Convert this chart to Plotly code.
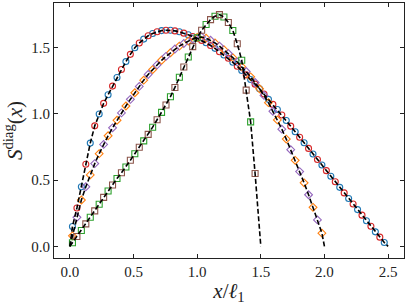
import plotly.graph_objects as go

# x grid of the numerical points (x / l1)
x_grid = [0.020, 0.055, 0.090, 0.125, 0.160, 0.195, 0.230, 0.265, 0.300, 0.335,
          0.370, 0.405, 0.440, 0.475, 0.510, 0.545, 0.580, 0.615, 0.650, 0.685,
          0.720, 0.755, 0.790, 0.825, 0.860, 0.895, 0.930, 0.965, 1.000, 1.035,
          1.070, 1.105, 1.140, 1.175, 1.210, 1.245, 1.280, 1.315, 1.350, 1.385,
          1.420, 1.455, 1.490, 1.525, 1.560, 1.595, 1.630, 1.665, 1.700, 1.735,
          1.770, 1.805, 1.840, 1.875, 1.910, 1.945, 1.980, 2.015, 2.050, 2.085,
          2.120, 2.155, 2.190, 2.225, 2.260, 2.295, 2.330, 2.365, 2.400, 2.435,
          2.470]

# curve ending at x = 2.5
y1 = [0.15, 0.29, 0.45, 0.62, 0.78, 0.91, 1.00, 1.08, 1.145, 1.21,
      1.275, 1.335, 1.395, 1.45, 1.50, 1.535, 1.565, 1.59, 1.607, 1.62,
      1.629, 1.632, 1.632, 1.627, 1.62, 1.61, 1.598, 1.585, 1.571, 1.555,
      1.537, 1.517, 1.495, 1.47, 1.445, 1.42, 1.39, 1.36, 1.328, 1.295,
      1.26, 1.225, 1.19, 1.15, 1.11, 1.072, 1.034, 0.992, 0.95, 0.908,
      0.866, 0.824, 0.782, 0.74, 0.698, 0.656, 0.614, 0.572, 0.53, 0.488,
      0.446, 0.404, 0.362, 0.32, 0.278, 0.236, 0.194, 0.152, 0.11, 0.07,
      0.03]
L1 = 2.5

# curve ending at x = 2.0
y2 = [0.08, 0.22, 0.35, 0.45, 0.54, 0.625, 0.70, 0.77, 0.835, 0.895,
      0.952, 1.008, 1.06, 1.11, 1.16, 1.208, 1.255, 1.298, 1.335, 1.37,
      1.405, 1.435, 1.462, 1.49, 1.512, 1.532, 1.55, 1.566, 1.577, 1.581,
      1.572, 1.556, 1.536, 1.512, 1.485, 1.456, 1.425, 1.392, 1.357, 1.32,
      1.28, 1.237, 1.19, 1.14, 1.085, 1.02, 0.955, 0.885, 0.81, 0.73,
      0.65, 0.565, 0.48, 0.39, 0.295, 0.20, 0.10]
L2 = 2.0

# curve ending at x = 1.5
y3 = [0.028, 0.075, 0.12, 0.17, 0.22, 0.268, 0.318, 0.37, 0.418, 0.464,
      0.513, 0.556, 0.60, 0.65, 0.70, 0.748, 0.797, 0.846, 0.90, 0.956,
      1.012, 1.068, 1.13, 1.20, 1.277, 1.354, 1.43, 1.508, 1.575, 1.632,
      1.675, 1.712, 1.738, 1.75, 1.732, 1.69, 1.63, 1.53, 1.405, 1.18,
      0.94, 0.55]
L3 = 1.5

x_ticks = [0.0, 0.5, 1.0, 1.5, 2.0, 2.5]
y_ticks = [0.0, 0.5, 1.0, 1.5]

SERIF = "Liberation Serif, DejaVu Serif, serif"

fig = go.Figure()

def add_curve(ys, c_a, c_b, sym, size):
    xs = x_grid[:len(ys)]
    fig.add_trace(go.Scatter(x=xs[0::2], y=ys[0::2], mode="markers",
                             marker=dict(symbol=sym, size=size, color=c_a,
                                         line=dict(width=1.1, color=c_a))))
    fig.add_trace(go.Scatter(x=xs[1::2], y=ys[1::2], mode="markers",
                             marker=dict(symbol=sym, size=size, color=c_b,
                                         line=dict(width=1.1, color=c_b))))

add_curve(y1, "#1f77b4", "#d62728", "circle-open", 6)
add_curve(y2, "#ff7f0e", "#9467bd", "diamond-open", 6)
add_curve(y3, "#2ca02c", "#8c564b", "square-open", 6)

for ys, L in [(y1, L1), (y2, L2), (y3, L3)]:
    xs = [0.0] + x_grid[:len(ys)] + [L]
    yy = [0.0] + ys + [0.0]
    fig.add_trace(go.Scatter(x=xs, y=yy, mode="lines",
                             line=dict(color="black", width=1.6, dash="5px,2.5px")))

axis_common = dict(showline=True, linecolor="#222", linewidth=1.2, mirror="ticks",
                   ticks="inside", ticklen=4, tickwidth=1, tickcolor="#222",
                   showgrid=False, zeroline=False,
                   tickfont=dict(family=SERIF, size=15, color="#222"))

fig.update_layout(
    width=407, height=305,
    margin=dict(l=54, r=3, t=3, b=47),
    paper_bgcolor="white", plot_bgcolor="white",
    showlegend=False,
    xaxis=dict(range=[-0.125, 2.625], tickvals=x_ticks, tickformat=".1f",
               title=dict(text="<i>x</i>/<i>ℓ</i><sub>1</sub>", standoff=6,
                          font=dict(family=SERIF, size=21, color="#222")),
               **axis_common),
    yaxis=dict(range=[-0.0875, 1.8375], tickvals=y_ticks, tickformat=".1f",
               title=dict(text="<i>S</i><sup>diag</sup>(<i>x</i>)", standoff=4,
                          font=dict(family=SERIF, size=21, color="#222")),
               **axis_common),
)

fig.write_html("out.html", config={"displayModeBar": False},
               post_script="document.body.style.margin='0';")
